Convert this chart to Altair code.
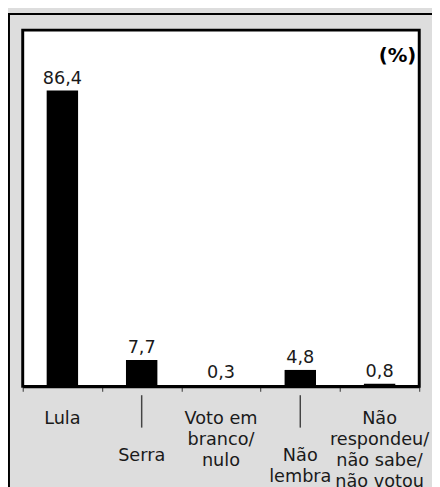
import altair as alt
import pandas as pd

categories = ["Lula", "Serra", "Voto em branco/nulo", "Não lembra",
              "Não respondeu/não sabe/não votou"]
values = [86.4, 7.7, 0.3, 4.8, 0.8]
value_labels = ["86,4", "7,7", "0,3", "4,8", "0,8"]
axis_labels = ["Lula", "Serra", "Voto em\nbranco/\nnulo", "Não\nlembra",
               "Não\nrespondeu/\nnão sabe/\nnão votou"]
label_level = ["top", "low", "top", "low", "top"]
unit_label = "(%)"

df = pd.DataFrame({
    "cat": categories,
    "val": values,
    "vlab": value_labels,
    "alab": axis_labels,
    "level": label_level,
})

W, H = 404, 363
FONT = "DejaVu Sans"

xenc = alt.X(
    "cat:N", sort=categories,
    scale=alt.Scale(paddingInner=0, paddingOuter=0),
    axis=alt.Axis(labels=False, title=None, tickBand="extent", domain=True,
                  domainColor="black", domainWidth=3, ticks=True,
                  tickColor="#333333", tickSize=5, tickWidth=1, grid=False),
)
yenc = alt.Y("val:Q", scale=alt.Scale(domain=[0, 104], nice=False), axis=None)

base = alt.Chart(df)

bars = base.mark_bar(size=32, color="black").encode(x=xenc, y=yenc)

vtext = base.mark_text(font=FONT, fontSize=18, baseline="middle", dy=-12,
                       color="#1a1a1a").encode(
    x=alt.X("cat:N", sort=categories), y=alt.Y("val:Q"), text="vlab:N")

top_labels = base.transform_filter(alt.datum.level == "top").mark_text(
    font=FONT, fontSize=18, baseline="top", lineBreak="\n", lineHeight=21.5,
    color="#1a1a1a").encode(
    x=alt.X("cat:N", sort=categories), y=alt.value(H + 24), text="alab:N")

low_labels = base.transform_filter(alt.datum.level == "low").mark_text(
    font=FONT, fontSize=18, baseline="top", lineBreak="\n", lineHeight=21,
    color="#1a1a1a").encode(
    x=alt.X("cat:N", sort=categories), y=alt.value(H + 62), text="alab:N")

seps = base.transform_filter(alt.datum.level == "low").mark_rule(
    color="#444444", strokeWidth=1.5).encode(
    x=alt.X("cat:N", sort=categories), y=alt.value(H + 9), y2=alt.value(H + 42))

unit = alt.Chart(pd.DataFrame({"u": [unit_label]})).mark_text(
    font=FONT, fontSize=20, fontWeight="bold", align="right",
    baseline="middle", color="black").encode(
    x=alt.value(W - 3), y=alt.value(26), text="u:N")

border = alt.Chart(pd.DataFrame({"k": [0]})).mark_rect(
    fillOpacity=0, stroke="black", strokeWidth=2).encode(
    x=alt.value(-14), x2=alt.value(W + 60),
    y=alt.value(-16.5), y2=alt.value(H + 200))

chart = alt.layer(border, bars, vtext, top_labels, low_labels, seps, unit).properties(
    width=W, height=H,
    autosize=alt.AutoSizeParams(type="none"),
    padding={"left": 15, "top": 18, "right": 13, "bottom": 98},
    background="#dddddd",
).configure_view(fill="white", stroke="black", strokeWidth=3)

chart.save("out.html", embed_options={"renderer": "svg", "actions": False})
